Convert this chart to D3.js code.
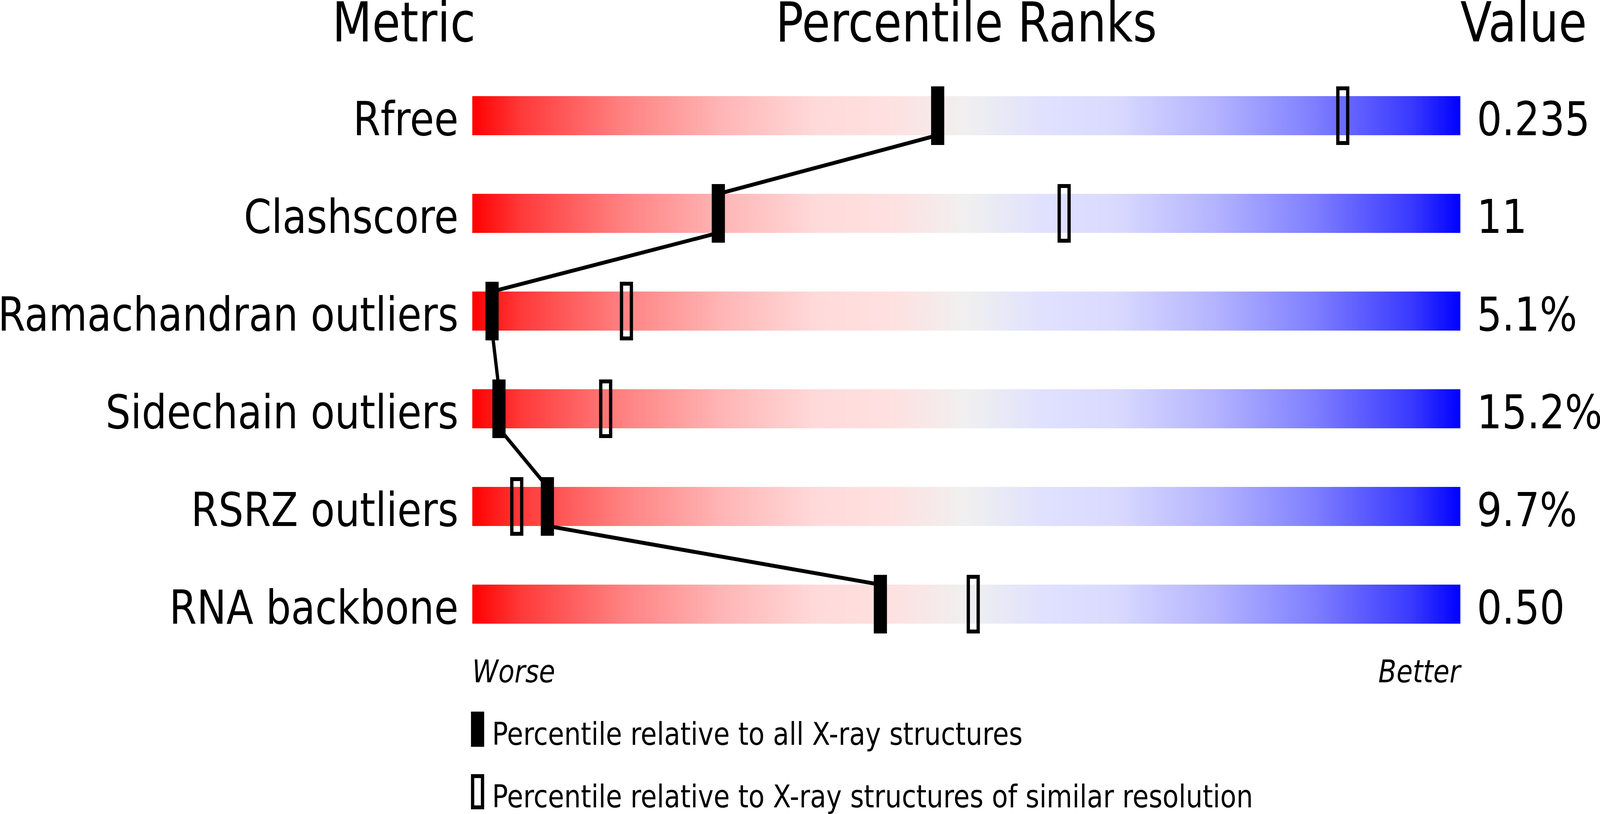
<!DOCTYPE html>
<html>
<head>
<meta charset="utf-8">
<style>
  html, body { margin: 0; padding: 0; background: #fff; overflow: hidden; }
  svg { display: block; width: 100vw; height: 100vh; font-family: "DejaVu Sans", sans-serif; }
</style>
</head>
<body>
<svg class="chart"></svg>

<script src="https://d3js.org/d3.v7.min.js"></script>
<script>
// metrics, top to bottom
metrics = ["Rfree", "Clashscore", "Ramachandran outliers", "Sidechain outliers", "RSRZ outliers", "RNA backbone"]
values  = ["0.235", "11", "5.1%", "15.2%", "9.7%", "0.50"]

// percentile vs all X-ray structures (filled) and vs similar resolution (open)
pctAll     = [47.1, 24.9, 2.0, 2.7, 7.6, 41.3]
pctSimilar = [88.1, 59.9, 15.6, 13.5, 4.5, 50.7]

legendLabels = ["Percentile relative to all X-ray structures",
                "Percentile relative to X-ray structures of similar resolution"]

// drawing units; the svg is stretched to fill the window
width  = 4858
height = 2083

barH   = 100
markW  = 40
markH  = 150
stroke = 10

const x = d3.scaleLinear()
    .domain([0, 100])
    .range([1434, 4434])

const y = d3.scalePoint()
    .domain(metrics)
    .range([246, 1496])

const rows = metrics.map((m, i) => ({name: m, value: values[i], all: pctAll[i], sim: pctSimilar[i]}))

const svg = d3.select("svg")
    .attr("viewBox", [0, 0, width, height])
    .attr("preserveAspectRatio", "none");

// red - grey - blue slider gradient
const stops = [
  [0, "#ff0000"], [0.05, "#ff3a3a"], [0.15, "#ff8080"], [0.25, "#ffb4b4"],
  [0.35, "#ffdada"], [0.42, "#ffe0e0"], [0.5, "#f0f0f0"], [0.58, "#e0e0ff"],
  [0.65, "#dadaff"], [0.75, "#b4b4ff"], [0.85, "#8080ff"], [0.95, "#3a3aff"], [1, "#0000ff"]
]
svg.append("defs").append("linearGradient")
    .attr("id", "slider")
  .selectAll("stop")
  .data(stops)
  .join("stop")
    .attr("offset", d => d[0])
    .attr("stop-color", d => d[1]);

// column headers
const head = svg.append("g").attr("font-size", 140);
head.append("text").attr("x", 1444).attr("y", 106).attr("text-anchor", "end").text("Metric");
head.append("text").attr("x", (x(0) + x(100)) / 2).attr("y", 106).attr("text-anchor", "middle").text("Percentile Ranks");
head.append("text").attr("x", x(100)).attr("y", 106).attr("text-anchor", "start").text("Value");

// bars
svg.append("g")
  .selectAll("rect")
  .data(rows)
  .join("rect")
    .attr("x", x(0))
    .attr("y", d => y(d.name))
    .attr("width", x(100) - x(0))
    .attr("height", barH)
    .attr("fill", "url(#slider)");

// metric labels and values
svg.append("g")
    .attr("font-size", 120)
    .attr("text-anchor", "end")
  .selectAll("text")
  .data(rows)
  .join("text")
    .attr("x", x(0) - 42)
    .attr("y", d => y(d.name) + barH)
    .text(d => d.name);

svg.append("g")
    .attr("font-size", 120)
  .selectAll("text")
  .data(rows)
  .join("text")
    .attr("x", x(100) + 50)
    .attr("y", d => y(d.name) + barH)
    .text(d => d.value);

// connecting line through the filled markers
const pts = [];
rows.forEach((d, i) => {
  if (i > 0) pts.push([x(d.all), y(d.name)]);
  pts.push([x(d.all), y(d.name) + barH]);
});
svg.append("path")
    .attr("d", d3.line()(pts))
    .attr("fill", "none")
    .attr("stroke", "#000")
    .attr("stroke-width", stroke);

// open markers
svg.append("g")
  .selectAll("rect")
  .data(rows)
  .join("rect")
    .attr("x", d => x(d.sim) - markW / 2 + stroke / 2)
    .attr("y", d => y(d.name) - (markH - barH) / 2 + stroke / 2)
    .attr("width", markW - stroke)
    .attr("height", markH - stroke)
    .attr("fill", "none")
    .attr("stroke", "#000")
    .attr("stroke-width", stroke);

// filled markers
svg.append("g")
  .selectAll("rect")
  .data(rows)
  .join("rect")
    .attr("x", d => x(d.all) - markW / 2)
    .attr("y", d => y(d.name) - (markH - barH) / 2)
    .attr("width", markW)
    .attr("height", markH)
    .attr("fill", "#000");

// worse / better
const ends = svg.append("g").attr("font-size", 80).attr("font-style", "italic");
ends.append("text").attr("x", x(0)).attr("y", 1746).text("Worse");
ends.append("text").attr("x", x(100)).attr("y", 1746).attr("text-anchor", "end").text("Better");

// legend
const leg = svg.append("g").attr("font-size", 80);
leg.append("rect")
    .attr("x", 1430).attr("y", 1821)
    .attr("width", 40).attr("height", 90)
    .attr("fill", "#000");
leg.append("rect")
    .attr("x", 1430 + stroke / 2).attr("y", 1981 + stroke / 2)
    .attr("width", 40 - stroke).attr("height", 90 - stroke)
    .attr("fill", "none")
    .attr("stroke", "#000")
    .attr("stroke-width", stroke);
leg.selectAll("text")
  .data(legendLabels)
  .join("text")
    .attr("x", 1494)
    .attr("y", (d, i) => 1906 + i * 160)
    .text(d => d);
</script>
</body>
</html>
